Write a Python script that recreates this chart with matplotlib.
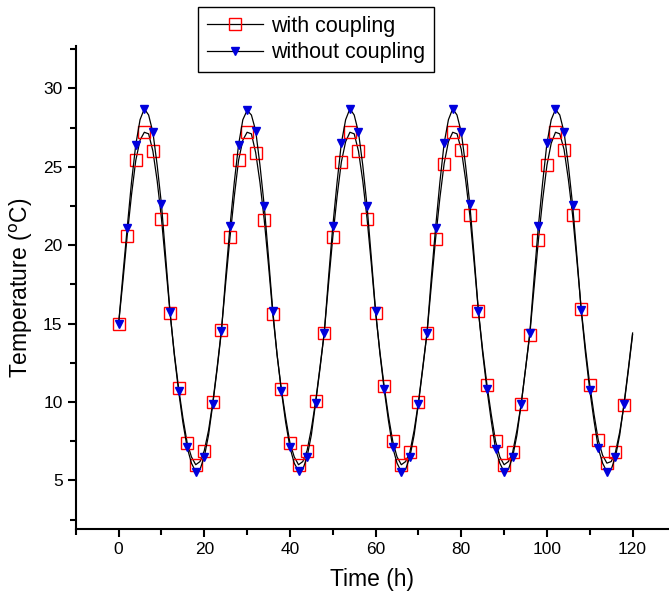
import numpy as np
import matplotlib
matplotlib.use("Agg")
import matplotlib.pyplot as plt
from matplotlib.ticker import MultipleLocator

plt.rcParams['font.family'] = ['Liberation Sans', 'DejaVu Sans']

# hourly temperatures, t = 0 ... 120 h
hours = list(range(0, 121))

with_coupling = [
    15.0, 17.7, 20.6, 23.2, 25.4, 26.7, 27.2, 27.1, 26.0, 24.1, 21.7, 18.7,
    15.7, 13.1, 10.9, 9.0, 7.4, 6.5, 6.0, 6.2, 6.9, 8.2, 10.0, 12.2,
    14.6, 17.6, 20.5, 23.1, 25.4, 26.7, 27.2, 27.1, 25.9, 24.0, 21.6, 18.7,
    15.6, 13.0, 10.8, 9.0, 7.4, 6.5, 6.0, 6.2, 6.9, 8.3, 10.05, 12.2,
    14.4, 17.5, 20.5, 23.1, 25.3, 26.6, 27.2, 27.1, 26.0, 24.1, 21.7, 18.8,
    15.7, 13.2, 11.0, 9.1, 7.5, 6.5, 6.0, 6.2, 6.8, 8.2, 10.0, 12.2,
    14.4, 17.4, 20.4, 23.0, 25.2, 26.6, 27.2, 27.1, 26.1, 24.2, 21.9, 18.9,
    15.8, 13.3, 11.1, 9.2, 7.5, 6.5, 6.0, 6.2, 6.8, 8.2, 9.9, 12.1,
    14.3, 17.3, 20.3, 22.9, 25.1, 26.5, 27.2, 27.1, 26.1, 24.2, 21.9, 19.0,
    15.95, 13.4, 11.1, 9.2, 7.55, 6.6, 6.1, 6.2, 6.8, 8.1, 9.8, 12.0,
    14.3,
]

without_coupling = [
    15.0, 18.1, 21.1, 24.0, 26.4, 28.0, 28.7, 28.3, 27.2, 25.1, 22.6, 19.2,
    15.75, 13.0, 10.7, 8.7, 7.1, 6.1, 5.55, 5.7, 6.5, 7.9, 9.9, 12.1,
    14.5, 18.0, 21.2, 24.0, 26.4, 28.0, 28.6, 28.3, 27.3, 25.1, 22.5, 19.2,
    15.8, 13.0, 10.7, 8.7, 7.1, 6.1, 5.6, 5.7, 6.5, 7.9, 9.95, 12.1,
    14.4, 17.9, 21.2, 24.0, 26.5, 28.0, 28.7, 28.3, 27.2, 25.1, 22.5, 19.2,
    15.8, 13.1, 10.8, 8.8, 7.1, 6.1, 5.55, 5.7, 6.5, 7.9, 9.9, 12.1,
    14.4, 17.9, 21.1, 24.0, 26.5, 28.0, 28.7, 28.3, 27.2, 25.1, 22.6, 19.3,
    15.8, 13.1, 10.8, 8.8, 7.0, 6.1, 5.55, 5.7, 6.5, 7.9, 9.9, 12.1,
    14.4, 17.9, 21.2, 24.0, 26.5, 28.0, 28.66, 28.3, 27.2, 25.1, 22.55, 19.3,
    15.85, 13.1, 10.75, 8.8, 7.04, 6.1, 5.55, 5.7, 6.5, 7.9, 9.9, 12.1,
    14.4,
]

x_ticks = [0, 20, 40, 60, 80, 100, 120]
y_ticks = [5, 10, 15, 20, 25, 30]

fig = plt.figure(figsize=(6.69, 5.96), dpi=100)
ax = fig.add_axes([0.1133, 0.1124, 0.8867, 0.8104])

marks = slice(0, 119, 2)  # a marker every 2 h, none on the last point
ax.plot(hours, with_coupling, color='black', lw=0.9, marker='s', markevery=marks,
        markersize=8, markerfacecolor='none', markeredgecolor='red',
        markeredgewidth=1.0, label='with coupling')
ax.plot(hours, without_coupling, color='black', lw=0.9, marker='v', markevery=marks,
        markersize=5.5, markerfacecolor='#0000dd', markeredgecolor='#0000dd',
        label='without coupling')

ax.set_xlim(-10, 128.5)
ax.set_ylim(1.9, 32.7)
ax.set_xticks(x_ticks)
ax.set_yticks(y_ticks)
ax.xaxis.set_minor_locator(MultipleLocator(10))
ax.yaxis.set_minor_locator(MultipleLocator(2.5))

for s in ['top', 'right']:
    ax.spines[s].set_visible(False)
for s in ['left', 'bottom']:
    ax.spines[s].set_linewidth(1.5)

ax.tick_params(which='major', direction='out', length=6, width=1.5, labelsize=12.5)
ax.tick_params(which='minor', direction='out', length=4, width=1.5)

ax.set_xlabel('Time (h)', fontsize=16.5, labelpad=8)
ax.set_ylabel('Temperature ($^{\\rm o}$C)', fontsize=16.5, labelpad=6)

leg = ax.legend(loc='upper left', bbox_to_anchor=(0.296, 0.988),
                bbox_transform=fig.transFigure, borderaxespad=0, numpoints=1,
                fontsize=15.5, fancybox=False, framealpha=1, edgecolor='black',
                handlelength=2.6, handletextpad=0.4, labelspacing=0.25,
                borderpad=0.4)
leg.get_frame().set_linewidth(1.0)

fig.savefig('out.png', dpi=100)
